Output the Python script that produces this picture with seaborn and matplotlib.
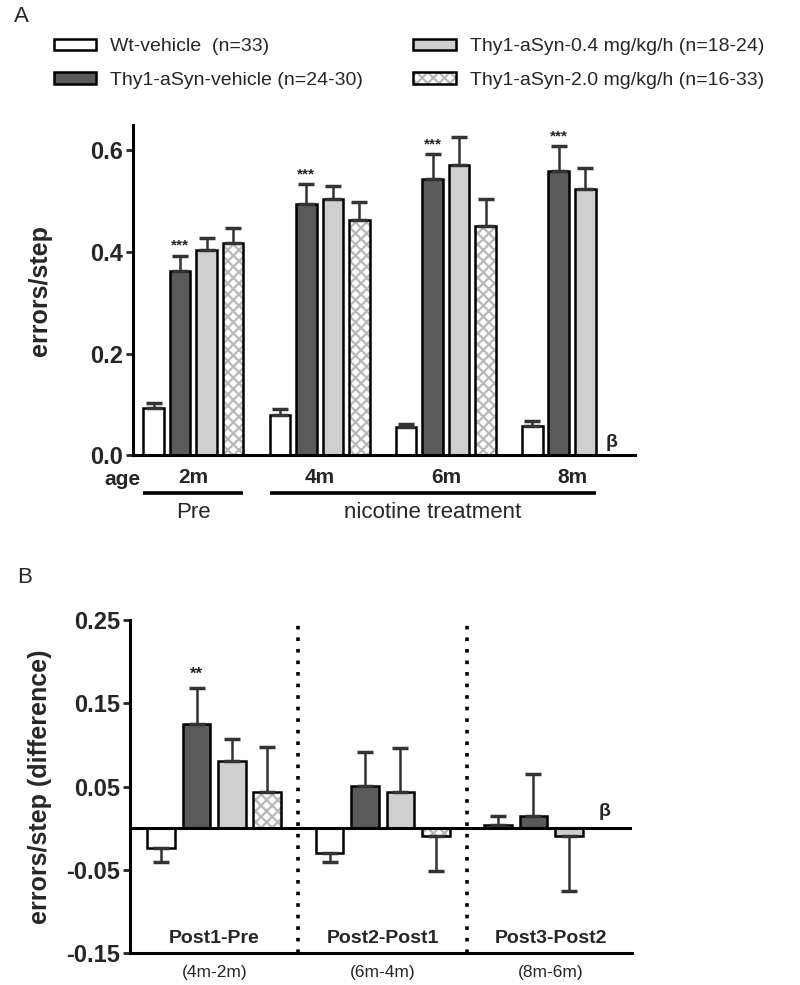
import numpy as np
import pandas as pd
import matplotlib
matplotlib.use('Agg')
import matplotlib.pyplot as plt
from matplotlib.colors import to_rgba
from matplotlib.transforms import blended_transform_factory
import seaborn as sns

# groups (legend order) and their bar fills
groups = ['Wt-vehicle  (n=33)', 'Thy1-aSyn-vehicle (n=24-30)',
          'Thy1-aSyn-0.4 mg/kg/h (n=18-24)', 'Thy1-aSyn-2.0 mg/kg/h (n=16-33)']
fills = ['white', '#5a5a5a', '#cfcfcf', 'white']

# panel A: errors/step by age (mean, sem)
ages = ['2m', '4m', '6m', '8m']
wt_mean = [0.092, 0.079, 0.055, 0.058]
wt_sem = [0.010, 0.011, 0.007, 0.010]
veh_mean = [0.363, 0.495, 0.544, 0.559]
veh_sem = [0.030, 0.038, 0.049, 0.049]
low_mean = [0.403, 0.505, 0.571, 0.525]
low_sem = [0.024, 0.026, 0.055, 0.041]
high_mean = [0.417, 0.463, 0.452, np.nan]
high_sem = [0.030, 0.036, 0.052, np.nan]

# panel B: change in errors/step between sessions
periods = ['Post1-Pre', 'Post2-Post1', 'Post3-Post2']
period_months = ['(4m-2m)', '(6m-4m)', '(8m-6m)']
wt_diff = [-0.024, -0.030, 0.004]
wt_diff_sem = [0.017, 0.011, 0.011]
veh_diff = [0.125, 0.051, 0.015]
veh_diff_sem = [0.043, 0.041, 0.050]
low_diff = [0.081, 0.043, -0.009]
low_diff_sem = [0.026, 0.053, 0.067]
high_diff = [0.044, -0.010, np.nan]
high_diff_sem = [0.053, 0.041, np.nan]

stars_a = ['***', '***', '***', '***']   # vehicle vs wt, per age
stars_b = ['**', '', '']                 # vehicle vs wt, per period


def long_table(cats, means, sems, col):
    rows = []
    for g, m_list, s_list in zip(groups, means, sems):
        for c, m, s in zip(cats, m_list, s_list):
            rows.append({col: c, 'group': g, 'value': m, 'sem': s})
    return pd.DataFrame(rows)


df_a = long_table(ages, [wt_mean, veh_mean, low_mean, high_mean],
                  [wt_sem, veh_sem, low_sem, high_sem], 'age')
df_b = long_table(periods, [wt_diff, veh_diff, low_diff, high_diff],
                  [wt_diff_sem, veh_diff_sem, low_diff_sem, high_diff_sem], 'period')

sns.set_theme(style='ticks')
plt.rcParams['font.family'] = ['Liberation Sans', 'DejaVu Sans']
plt.rcParams['hatch.linewidth'] = 1.6

fig = plt.figure(figsize=(8, 9.85), dpi=100)
ax_a = fig.add_axes([0.166, 0.538, 0.628, 0.335])
ax_b = fig.add_axes([0.1625, 0.0325, 0.6275, 0.338])


def draw_bars(ax, df, xcol, order):
    sns.barplot(data=df.dropna(subset=['value']), x=xcol, y='value', hue='group',
                order=order, hue_order=groups, palette=dict(zip(groups, fills)),
                width=0.84, gap=0.22, edgecolor='black', linewidth=1.8,
                errorbar=None, legend=False, saturation=1, ax=ax)
    # checker fill for the high dose
    for p in ax.containers[3]:
        p.set_hatch('xxx')
        if hasattr(p, 'set_hatchcolor'):
            p.set_hatchcolor('#b8b8b8')
        else:
            p._hatch_color = to_rgba('#b8b8b8')
    # one-sided sem bars
    lookup = df.set_index([xcol, 'group'])['sem']
    for g, cont in zip(groups, ax.containers):
        for p in cont:
            xc = p.get_x() + p.get_width() / 2
            h = p.get_height()
            s = lookup[(order[int(round(xc))], g)]
            yerr = [[0], [s]] if h >= 0 else [[s], [0]]
            ax.errorbar(xc, h, yerr=yerr, fmt='none', ecolor='#333333',
                        elinewidth=1.8, capsize=6, capthick=2.5, zorder=1)
    # offset of the missing high-dose slot
    p = ax.containers[3][0]
    xc = p.get_x() + p.get_width() / 2
    return xc - round(xc)


def style_axis(ax):
    sns.despine(ax=ax)
    for s in ['left', 'bottom']:
        ax.spines[s].set_linewidth(2.2)
        ax.spines[s].set_color('black')
    ax.tick_params(axis='y', length=5, width=2, pad=2, labelsize=17)
    ax.tick_params(axis='x', length=0)
    for t in ax.get_yticklabels():
        t.set_fontweight('bold')


# ---------------- panel A ----------------
off_a = draw_bars(ax_a, df_a, 'age', ages)
ax_a.set_xlim(-0.48, 3.5)
ax_a.set_ylim(0, 0.65)
ax_a.set_yticks([0.0, 0.2, 0.4, 0.6])
ax_a.set_yticklabels([f'{v:.1f}' for v in [0.0, 0.2, 0.4, 0.6]])
ax_a.set_xlabel('')
ax_a.set_ylabel('errors/step', fontsize=18, fontweight='bold')
ax_a.yaxis.set_label_coords(-0.16, 0.5)
style_axis(ax_a)
ax_a.set_xticks(range(len(ages)))
ax_a.set_xticklabels(ages, fontsize=15, fontweight='bold')
ax_a.tick_params(axis='x', pad=9)

for p, st in zip(ax_a.containers[1], stars_a):
    xc = p.get_x() + p.get_width() / 2
    top = p.get_height() + df_a.set_index(['age', 'group'])['sem'][(ages[int(round(xc))], groups[1])]
    ax_a.text(xc, top + 0.006, st, ha='center', va='bottom', fontsize=11, fontweight='bold')
ax_a.text(3 + off_a, 0.025, 'β', ha='center', va='center', fontsize=14, fontweight='bold')

tr_a = blended_transform_factory(ax_a.transData, ax_a.transAxes)
ax_a.text(-0.02, -0.045, 'age', transform=ax_a.transAxes, ha='center', va='top',
          fontsize=15, fontweight='bold')
# brackets under the ages: Pre (2m) and treatment (4m-8m)
pre_lo = ax_a.containers[0][0].get_x()
pre_hi = ax_a.containers[3][0].get_x() + ax_a.containers[3][0].get_width()
trt_lo = ax_a.containers[0][1].get_x()
trt_hi = ax_a.containers[2][3].get_x() + ax_a.containers[2][3].get_width()
for lo, hi, lab in [(pre_lo, pre_hi, 'Pre'), (trt_lo, trt_hi, 'nicotine treatment')]:
    ax_a.plot([lo, hi], [-0.116, -0.116], transform=tr_a, color='black', lw=2.6,
              clip_on=False, solid_capstyle='butt')
    ax_a.text((lo + hi) / 2, -0.142, lab, transform=tr_a, ha='center', va='top', fontsize=16)

# ---------------- panel B ----------------
off_b = draw_bars(ax_b, df_b, 'period', periods)
ax_b.set_xlim(-0.5, 2.48)
ax_b.set_ylim(-0.15, 0.25)
b_ticks = [-0.15, -0.05, 0.05, 0.15, 0.25]
ax_b.set_yticks(b_ticks)
ax_b.set_yticklabels([f'{v:.2f}' for v in b_ticks])
ax_b.set_xlabel('')
ax_b.set_ylabel('errors/step (difference)', fontsize=18, fontweight='bold')
ax_b.yaxis.set_label_coords(-0.155, 0.5)
style_axis(ax_b)
ax_b.set_xticks(range(len(periods)))
ax_b.set_xticklabels(period_months, fontsize=12.5)
ax_b.tick_params(axis='x', pad=9)
ax_b.axhline(0, color='black', lw=2.2, zorder=3)
for xv in [0.5, 1.5]:
    ax_b.axvline(xv, color='black', lw=2.6, linestyle=(0, (1, 2.2)), zorder=0)
for i, lab in enumerate(periods):
    ax_b.annotate(lab, xy=(i, 0), xycoords=('data', 'axes fraction'), xytext=(0, 4),
                  textcoords='offset points', ha='center', va='bottom',
                  fontsize=14, fontweight='bold')

for p, st in zip(ax_b.containers[1], stars_b):
    if not st:
        continue
    xc = p.get_x() + p.get_width() / 2
    top = p.get_height() + df_b.set_index(['period', 'group'])['sem'][(periods[int(round(xc))], groups[1])]
    ax_b.text(xc, top + 0.008, st, ha='center', va='bottom', fontsize=12, fontweight='bold')
ax_b.text(2 + off_b, 0.02, 'β', ha='center', va='center', fontsize=14, fontweight='bold')

# panel letters and shared legend
fig.text(0.018, 0.983, 'A', fontsize=16, ha='left', va='center')
fig.text(0.022, 0.414, 'B', fontsize=16, ha='left', va='center')
fig.legend(handles=ax_a.containers, labels=groups, ncol=2, loc='upper left',
           bbox_to_anchor=(0.067, 0.961), frameon=False, fontsize=14,
           handlelength=2.2, handleheight=0.5, handletextpad=0.7,
           labelspacing=0.85, columnspacing=2.6, borderpad=0, borderaxespad=0)

fig.savefig('out.png', dpi=100)
